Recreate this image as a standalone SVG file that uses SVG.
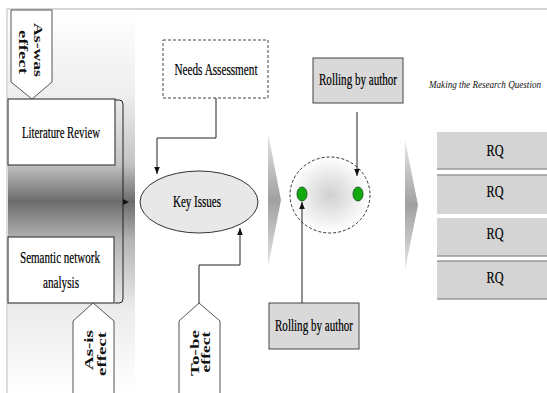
<svg xmlns="http://www.w3.org/2000/svg" width="547" height="393" viewBox="0 0 547 393">
<defs>
<linearGradient id="panelGrad" x1="0" y1="0" x2="0" y2="1">
<stop offset="0" stop-color="#ffffff"/>
<stop offset="0.22" stop-color="#eeeeee"/>
<stop offset="0.40" stop-color="#c4c4c4"/>
<stop offset="0.50" stop-color="#6c6c6c"/>
<stop offset="0.60" stop-color="#b4b4b4"/>
<stop offset="0.78" stop-color="#ececec"/>
<stop offset="1" stop-color="#ffffff"/>
</linearGradient>
<linearGradient id="chevGrad" x1="0" y1="0" x2="0" y2="1">
<stop offset="0" stop-color="#e6e6e6"/>
<stop offset="0.5" stop-color="#a0a0a0"/>
<stop offset="1" stop-color="#e6e6e6"/>
</linearGradient>
<radialGradient id="circGrad" cx="0.5" cy="0.5" r="0.5">
<stop offset="0" stop-color="#d0d0d0"/>
<stop offset="1" stop-color="#ffffff"/>
</radialGradient>
<marker id="arr" viewBox="0 0 10 10" refX="10" refY="5" markerWidth="7" markerHeight="7" orient="auto" markerUnits="userSpaceOnUse">
<path d="M0,1 L10,5 L0,9 Z" fill="#111"/>
</marker>
<style>
.lbl{font-family:"Liberation Serif","Times New Roman",serif;font-size:16px;fill:#000;text-anchor:middle;stroke:#000;stroke-width:0.2}
.rot{font-family:"Liberation Serif","Times New Roman",serif;font-size:13px;font-weight:bold;fill:#111;text-anchor:middle}
.box{fill:#ffffff;stroke:#444;stroke-width:1.2}
.gbox{fill:#d9d9d9;stroke:#444;stroke-width:1}
.penta{fill:#ffffff;stroke:#555;stroke-width:1}
.conn{fill:none;stroke:#222;stroke-width:1}
.rq{fill:#d4d4d4}
.rqline{stroke:#9a9a9a;stroke-width:1.5}
</style>
</defs>
<rect x="0" y="0" width="547" height="393" fill="#ffffff"/>
<line x1="7" y1="9" x2="547" y2="9" stroke="#d6d6d6" stroke-width="2"/>
<line x1="7" y1="9" x2="7" y2="393" stroke="#d0d0d0" stroke-width="1.5"/>
<rect x="8" y="10" width="127" height="383" fill="url(#panelGrad)"/>

<g id="as-was-effect">
<path class="penta" d="M11,10 H52 V82 L32,99 L11,82 Z"/>
<text class="rot" transform="translate(32,50) rotate(90)" textLength="54" lengthAdjust="spacingAndGlyphs" x="0" y="-2">As-was</text>
<text class="rot" transform="translate(32,50) rotate(90)" textLength="44" lengthAdjust="spacingAndGlyphs" x="2" y="13">effect</text>
</g>

<g id="literature-review">
<rect class="box" x="8" y="99" width="107" height="66"/>
<text class="lbl" x="61" y="138" textLength="78" lengthAdjust="spacingAndGlyphs">Literature Review</text>
</g>

<g id="semantic-network-analysis">
<rect class="box" x="8" y="237" width="106" height="66"/>
<text class="lbl" x="60" y="263" textLength="80" lengthAdjust="spacingAndGlyphs">Semantic network</text>
<text class="lbl" x="61" y="288" textLength="36" lengthAdjust="spacingAndGlyphs">analysis</text>
</g>

<g id="as-is-effect">
<path class="penta" d="M93,303 L114,321 V394 H73 V321 Z"/>
<text class="rot" transform="translate(93,350) rotate(-90)" textLength="40" lengthAdjust="spacingAndGlyphs" x="0" y="0">As-is</text>
<text class="rot" transform="translate(93,350) rotate(-90)" textLength="44" lengthAdjust="spacingAndGlyphs" x="-4" y="13">effect</text>
</g>

<g id="to-be-effect">
<path class="penta" d="M199,303 L220,321 V394 H179 V321 Z"/>
<text class="rot" transform="translate(199,353) rotate(-90)" textLength="46" lengthAdjust="spacingAndGlyphs" x="0" y="0">To-be</text>
<text class="rot" transform="translate(199,353) rotate(-90)" textLength="41" lengthAdjust="spacingAndGlyphs" x="1" y="11">effect</text>
</g>

<g id="needs-assessment">
<rect x="163" y="40" width="105" height="58" fill="#ffffff" stroke="#444" stroke-width="1" stroke-dasharray="3,2"/>
<text class="lbl" x="216" y="75" textLength="83" lengthAdjust="spacingAndGlyphs">Needs Assessment</text>
</g>

<g id="key-issues">
<ellipse cx="199" cy="202" rx="59" ry="31" fill="#e8e8e8" stroke="#333" stroke-width="1"/>
<text class="lbl" x="197" y="207" textLength="48" lengthAdjust="spacingAndGlyphs">Key Issues</text>
</g>

<g id="chevron-1">
<polygon points="268,133 281,200 268,267" fill="url(#chevGrad)"/>
</g>

<g id="rolling-circle">
<ellipse cx="330" cy="195" rx="40" ry="38" fill="url(#circGrad)" stroke="#333" stroke-width="1" stroke-dasharray="3,2"/>
<ellipse cx="302" cy="194" rx="5" ry="7" fill="#11aa11" stroke="#114411" stroke-width="0.8"/>
<ellipse cx="358" cy="194" rx="5" ry="7" fill="#11aa11" stroke="#114411" stroke-width="0.8"/>
</g>

<g id="rolling-top">
<rect class="gbox" x="313" y="58" width="90" height="45"/>
<text class="lbl" x="358" y="85" textLength="78" lengthAdjust="spacingAndGlyphs">Rolling by author</text>
</g>

<g id="rolling-bottom">
<rect class="gbox" x="269" y="303" width="90" height="46"/>
<text class="lbl" x="314" y="331" textLength="78" lengthAdjust="spacingAndGlyphs">Rolling by author</text>
</g>

<g id="chevron-2">
<polygon points="405,140 418,205 405,270" fill="url(#chevGrad)"/>
</g>

<g id="title">
<text x="429" y="88" font-family="Liberation Serif, Times New Roman, serif" font-size="11" font-style="italic" fill="#111" textLength="112" lengthAdjust="spacingAndGlyphs">Making the Research Question</text>
</g>

<g id="rq-1">
<rect class="rq" x="437" y="132" width="110" height="37"/>
<line class="rqline" x1="437" y1="169" x2="547" y2="169"/>
<text class="lbl" x="495" y="156" textLength="17" lengthAdjust="spacingAndGlyphs">RQ</text>
</g>
<g id="rq-2">
<rect class="rq" x="437" y="175" width="110" height="39"/>
<line class="rqline" x1="437" y1="175" x2="547" y2="175"/>
<text class="lbl" x="495" y="197" textLength="17" lengthAdjust="spacingAndGlyphs">RQ</text>
</g>
<g id="rq-3">
<rect class="rq" x="437" y="218" width="110" height="38"/>
<line class="rqline" x1="437" y1="256" x2="547" y2="256"/>
<text class="lbl" x="495" y="239" textLength="17" lengthAdjust="spacingAndGlyphs">RQ</text>
</g>
<g id="rq-4">
<rect class="rq" x="437" y="261" width="110" height="38"/>
<line class="rqline" x1="437" y1="261" x2="547" y2="261"/>
<line class="rqline" x1="437" y1="299" x2="547" y2="299"/>
<text class="lbl" x="495" y="283" textLength="17" lengthAdjust="spacingAndGlyphs">RQ</text>
</g>

<g id="connectors">
<path class="conn" d="M115,100 H119 Q123,100 123,104 V299 Q123,303 119,303 H115" stroke-width="1.5"/>
<path d="M123,199 L129,202 L123,205 Z" fill="#111"/>
<path class="conn" d="M216,98 V138 H157 V174" marker-end="url(#arr)"/>
<path class="conn" d="M199,303 V265 H240 V228" marker-end="url(#arr)"/>
<path class="conn" d="M357,112 V176" marker-end="url(#arr)"/>
<path class="conn" d="M302,303 V202" marker-end="url(#arr)"/>
</g>
</svg>
